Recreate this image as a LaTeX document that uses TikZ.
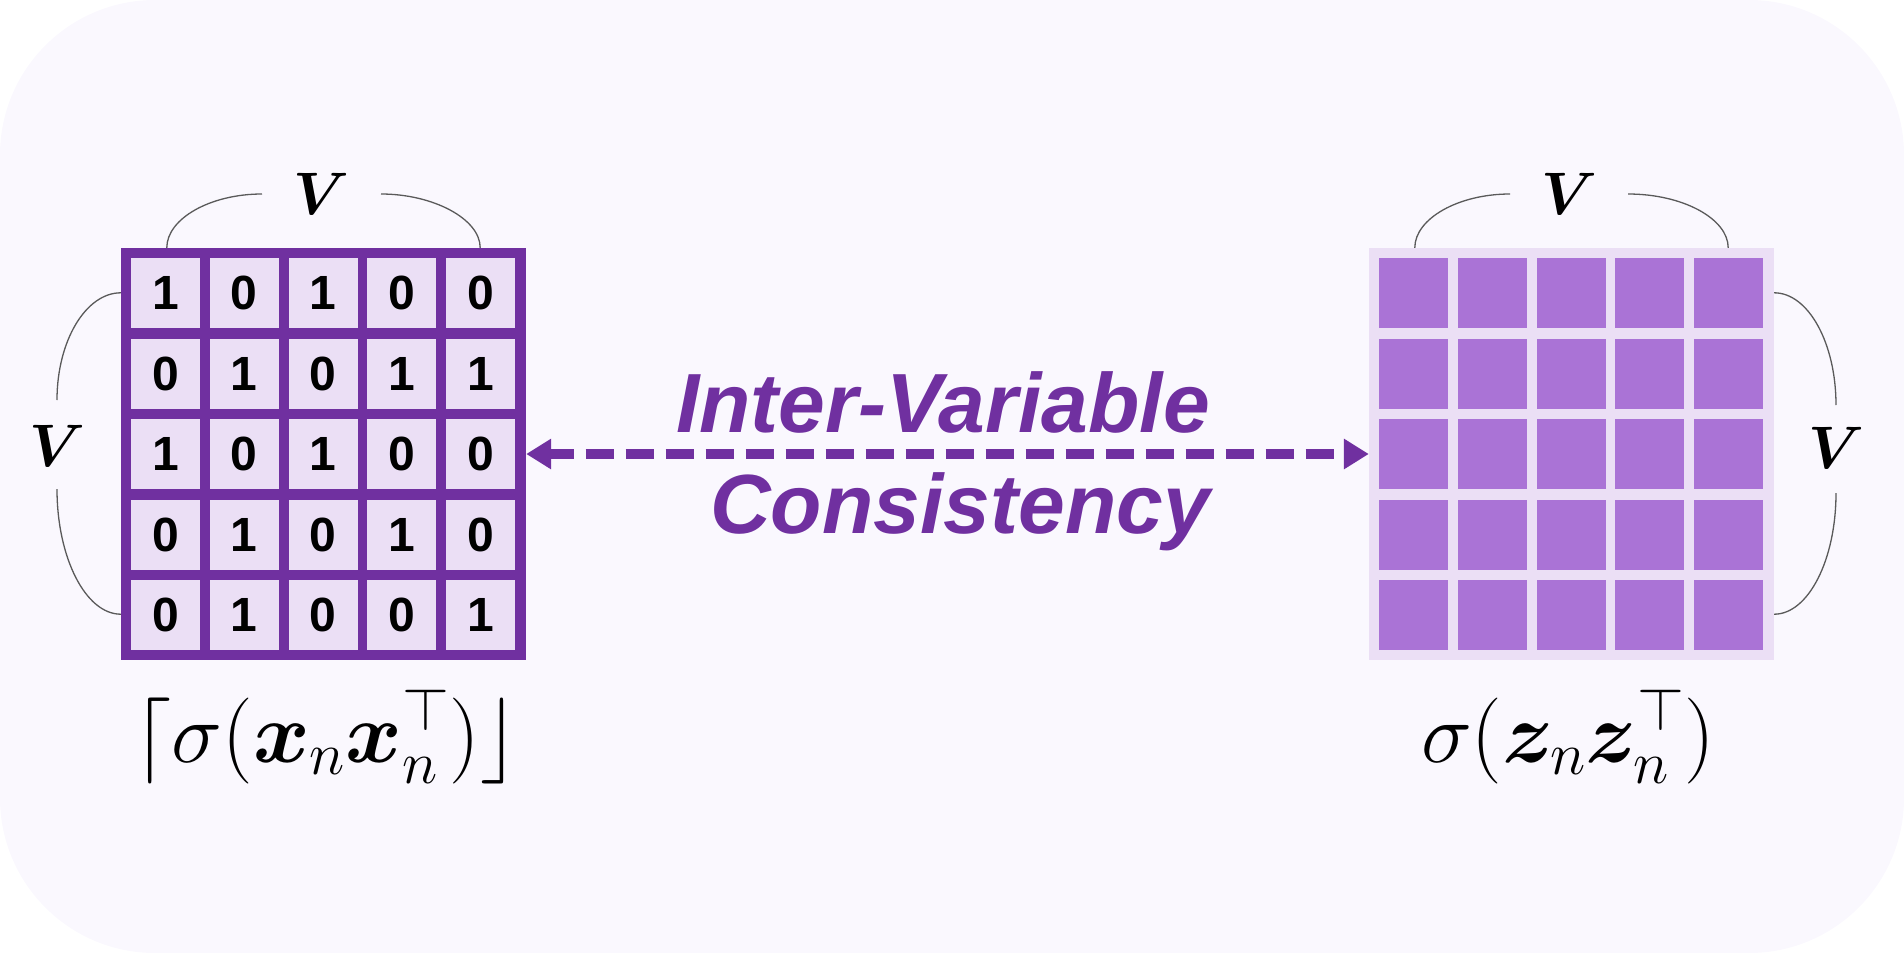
\RequirePackage{fix-cm}
\documentclass[tikz,border=0pt]{standalone}
\usepackage{amsmath}
\usepackage{bm}
\usepackage{fontspec}
\setsansfont{Liberation Sans}
\usepackage{tikz}
\usetikzlibrary{arrows.meta,calc}
\definecolor{ivcpurple}{HTML}{7030A0}
\definecolor{ivclight}{HTML}{EBDFF5}
\definecolor{ivcmid}{HTML}{AA73D6}
\definecolor{ivcbg}{HTML}{FAF8FE}
\definecolor{ivcgray}{HTML}{5A5A5A}

\begin{document}
\begin{tikzpicture}[x=1pt, y=-1pt,
  frame/.style={rectangle, fill=#1, minimum width=405pt, minimum height=412pt, inner sep=0pt},
  bitcell/.style={rectangle, fill=ivclight, minimum width=69pt, minimum height=70pt, inner sep=0pt,
                  font=\sffamily\bfseries\fontsize{48}{48}\selectfont},
  embcell/.style={rectangle, fill=ivcmid, minimum width=69pt, minimum height=70pt, inner sep=0pt},
  brace/.style={draw=ivcgray, line width=1.3pt},
  dimlabel/.style={font=\fontsize{60}{60}\selectfont, inner sep=0pt},
  bigmath/.style={font=\fontsize{86}{86}\selectfont, inner sep=0pt, anchor=base},
  ivctext/.style={font=\sffamily\bfseries\itshape\fontsize{84}{101}\selectfont, text=ivcpurple,
                  inner sep=0pt, anchor=base east},
  ar/.style={{Triangle[length=25pt, width=29pt]}-{Triangle[length=25pt, width=29pt]}, line width=9.5pt,
             ivcpurple, dash pattern=on 28pt off 12pt, dash phase=4pt},
]
\fill[ivcbg, rounded corners=155pt] (0,0) rectangle (1904,953);
\useasboundingbox (0,0) rectangle (1904,953);

% the two matrices
\node[frame=ivcpurple] (xmat) at (323.5,454) {};
\node[frame=ivclight]  (zmat) at (1571.5,454) {};

\foreach \vals [count=\r from 0] in {{1,0,1,0,0},{0,1,0,1,1},{1,0,1,0,0},{0,1,0,1,0},{0,1,0,0,1}}
  \foreach \v [count=\c from 0] in \vals
    \node[bitcell] (x\r\c) at ({165.5+78.75*\c},{293+80.5*\r}) {\v};

\foreach \r in {0,...,4}
  \foreach \c in {0,...,4}
    \node[embcell] (z\r\c) at ({1413.5+78.75*\c},{293+80.5*\r}) {};

% size labels
\node[dimlabel] (vxtop)  at (321,194)  {$\bm{V}$};
\node[dimlabel] (vxside) at (57,446)   {$\bm{V}$};
\node[dimlabel] (vztop)  at (1569,194) {$\bm{V}$};
\node[dimlabel] (vzside) at (1836,448) {$\bm{V}$};

\draw[brace] ($(xmat.north west)+(46,0)$) .. controls +(0,-29) and +(-52,0) .. ($(vxtop.center)+(-59,0)$);
\draw[brace] ($(vxtop.center)+(60,0)$) .. controls +(52,0) and +(0,-29) .. ($(xmat.north east)+(-46,0)$);
\draw[brace] ($(xmat.north west)+(0,45)$) .. controls +(-35,0) and +(0,-59) .. ($(vxside.center)+(0,-46)$);
\draw[brace] ($(vxside.center)+(0,43)$) .. controls +(0,69) and +(-35,0) .. ($(xmat.south west)+(0,-46)$);

\draw[brace] ($(zmat.north west)+(46,0)$) .. controls +(0,-29) and +(-52,0) .. ($(vztop.center)+(-59,0)$);
\draw[brace] ($(vztop.center)+(59,0)$) .. controls +(55,0) and +(0,-29) .. ($(zmat.north east)+(-46,0)$);
\draw[brace] ($(zmat.north east)+(0,45)$) .. controls +(34,0) and +(0,-62) .. ($(vzside.center)+(0,-43)$);
\draw[brace] ($(vzside.center)+(0,45)$) .. controls +(0,67) and +(34,0) .. ($(zmat.south east)+(0,-46)$);

% consistency arrow
\draw[ar] (xmat.east) -- (zmat.west);
\node[ivctext] (ivcA) at (1210,432) {Inter-Variable};
\node[ivctext] (ivcB) at (1210,533) {Consistency};

% captions
\node[bigmath] (xlabel) at (326,762)  {$\lceil\sigma(\bm{x}_n\bm{x}_n^{\top})\rfloor$};
\node[bigmath] (zlabel) at (1568,762) {$\sigma(\bm{z}_n\bm{z}_n^{\top})$};
\end{tikzpicture}
\end{document}
